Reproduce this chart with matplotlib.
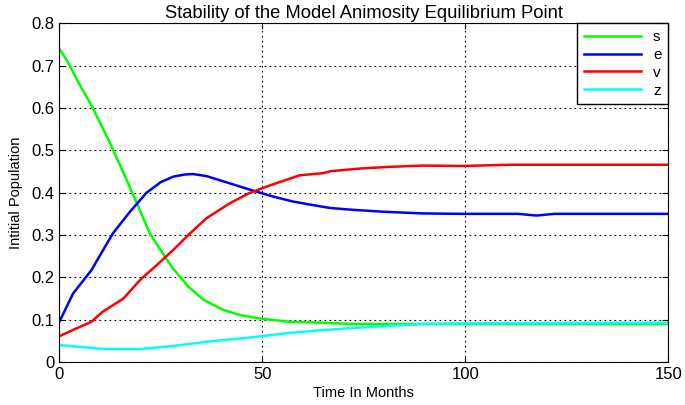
import numpy as np
import matplotlib
matplotlib.use('Agg')
import matplotlib.pyplot as plt

plt.rcParams['font.family'] = ['Liberation Sans', 'DejaVu Sans']

# values
t_s = [0, 2, 5, 8, 12.5, 16.5, 19, 22.3, 26, 28, 31.8, 35.5, 40.4, 44.5, 49.4, 56.8, 65, 72, 80, 100, 150]
s = [0.74, 0.71, 0.655, 0.605, 0.517, 0.432, 0.377, 0.304, 0.249, 0.221, 0.178, 0.147, 0.123, 0.111, 0.103, 0.095, 0.093, 0.09, 0.09, 0.09, 0.09]

t_e = [0, 3.4, 7.9, 13.2, 17.4, 21.5, 25, 28.1, 31, 33, 36.3, 42, 47, 52.6, 57.6, 61.7, 66.6, 71.6, 79.8, 89.6, 99, 113, 117.5, 122, 150]
e = [0.095, 0.162, 0.217, 0.304, 0.355, 0.4, 0.425, 0.438, 0.443, 0.444, 0.439, 0.422, 0.407, 0.391, 0.379, 0.372, 0.364, 0.36, 0.355, 0.351, 0.35, 0.35, 0.346, 0.35, 0.35]

t_v = [0, 3.4, 7.9, 10.7, 15.8, 19.9, 24, 28.1, 32.2, 36.3, 42, 46.8, 51.8, 59.2, 64.9, 67, 74.1, 81.4, 89.6, 99, 111, 150]
v = [0.061, 0.076, 0.095, 0.119, 0.15, 0.194, 0.229, 0.265, 0.304, 0.34, 0.375, 0.399, 0.417, 0.441, 0.446, 0.451, 0.457, 0.461, 0.464, 0.463, 0.466, 0.466]

t_z = [0, 5, 10.7, 19.9, 28.1, 36.3, 47, 56.8, 63, 71.6, 83.9, 90, 99.4, 150]
z = [0.04, 0.036, 0.031, 0.031, 0.038, 0.048, 0.058, 0.069, 0.074, 0.08, 0.087, 0.09, 0.0915, 0.093]

fig = plt.figure(figsize=(6.85, 4.05), dpi=100)
ax = fig.add_axes([0.0866, 0.106, 0.889, 0.8365])

ax.plot(t_s, s, color='#00ff00', lw=1.8, label='s')
ax.plot(t_e, e, color='#0000ff', lw=1.8, label='e')
ax.plot(t_v, v, color='#ff0000', lw=1.8, label='v')
ax.plot(t_z, z, color='#00ffff', lw=1.8, label='z')

ax.set_xlim(0, 150)
ax.set_ylim(0, 0.8)
ax.set_xticks([0, 50, 100, 150])
ax.set_yticks(np.arange(0, 0.81, 0.1))
ax.set_yticklabels(['0', '0.1', '0.2', '0.3', '0.4', '0.5', '0.6', '0.7', '0.8'])
ax.tick_params(direction='in', top=True, right=True, labelsize=12, length=4)
ax.grid(True, color='black', linestyle=(0, (1.5, 3)), linewidth=0.8)

ax.set_title('Stability of the Model Animosity Equilibrium Point', fontsize=13.2, pad=4)
ax.set_xlabel('Time In Months', fontsize=10.5, labelpad=3)
ax.set_ylabel('Intitial Population', fontsize=10.5, labelpad=6)

leg = ax.legend(loc='upper right', fontsize=11, handlelength=3.7, fancybox=False,
                framealpha=1, edgecolor='black', borderaxespad=0, labelspacing=0.25,
                borderpad=0.45)
leg.get_frame().set_linewidth(1.0)

fig.savefig('out.png', dpi=100)
